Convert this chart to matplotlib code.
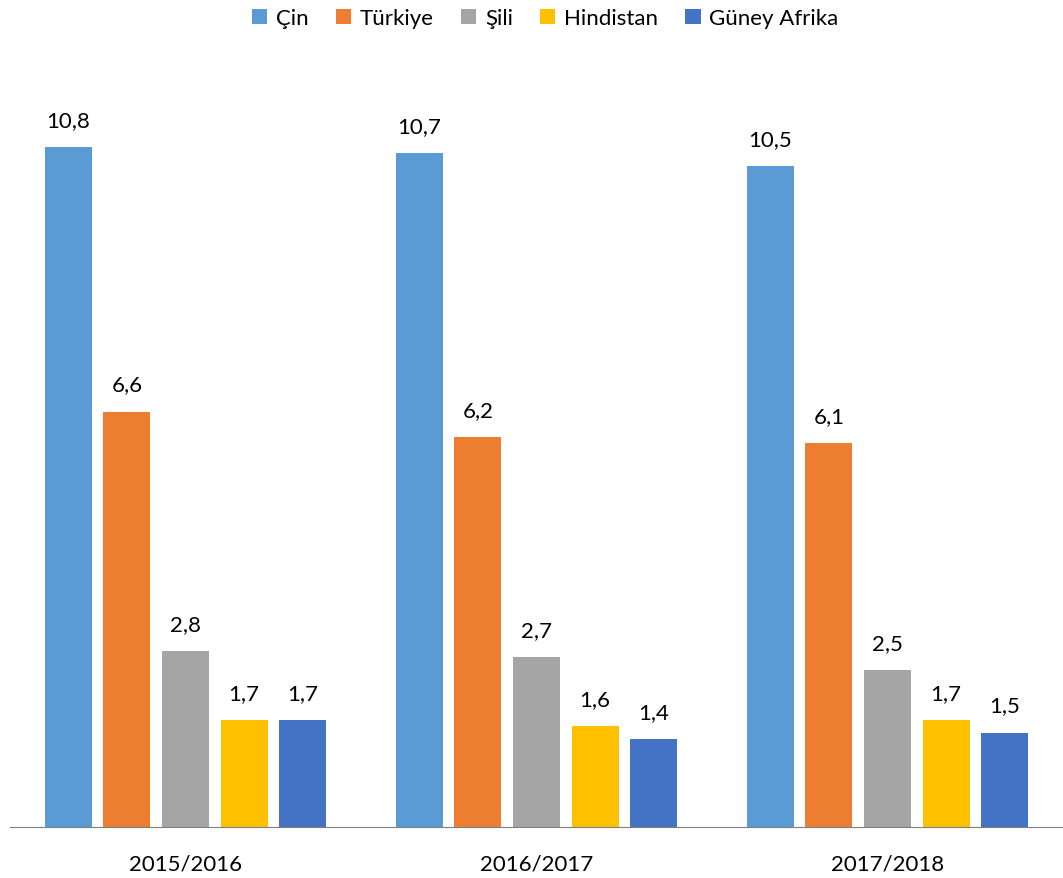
import numpy as np
from matplotlib import pyplot as plt

plt.rcParams['font.family'] = ['Lato', 'DejaVu Sans']

years = ["2015/2016", "2016/2017", "2017/2018"]
countries = ["Çin", "Türkiye", "Şili", "Hindistan", "Güney Afrika"]
values = {
    "Çin": [10.8, 10.7, 10.5],
    "Türkiye": [6.6, 6.2, 6.1],
    "Şili": [2.8, 2.7, 2.5],
    "Hindistan": [1.7, 1.6, 1.7],
    "Güney Afrika": [1.7, 1.4, 1.5],
}
colors = ["#5B9BD5", "#ED7D31", "#A5A5A5", "#FFC000", "#4472C4"]


def main():
    fig = plt.figure(figsize=(10.63, 8.79), dpi=100)
    ax = fig.add_axes([10 / 1063, 51 / 879, 1 - 10 / 1063, (828 - 60) / 879])

    x = np.arange(len(years))
    step = 0.167
    width = 0.134
    for i, (name, col) in enumerate(zip(countries, colors)):
        pos = x + (i - 2) * step
        bars = ax.bar(pos, values[name], width=width, color=col, label=name)
        for b, v in zip(bars, values[name]):
            ax.text(b.get_x() + b.get_width() / 2, v + 0.27,
                    f"{v:.1f}".replace(".", ","),
                    ha="center", va="bottom", fontsize=16)

    ax.set_xlim(-0.5, 2.5)
    ax.set_ylim(0, 12.2)
    ax.set_xticks(x)
    ax.set_xticklabels(years, fontsize=16)
    ax.tick_params(axis="x", length=0, pad=19)
    ax.set_yticks([])
    for s in ["top", "right", "left"]:
        ax.spines[s].set_visible(False)
    ax.spines["bottom"].set_color("#7f7f7f")

    fig.legend(loc="upper center", bbox_to_anchor=(0.513, 1.012), ncol=5,
               frameon=False, fontsize=16, handlelength=0.7, handleheight=0.7,
               handletextpad=0.4, columnspacing=1.2)

    fig.savefig("out.png", dpi=100)


if __name__ == '__main__':
    main()
